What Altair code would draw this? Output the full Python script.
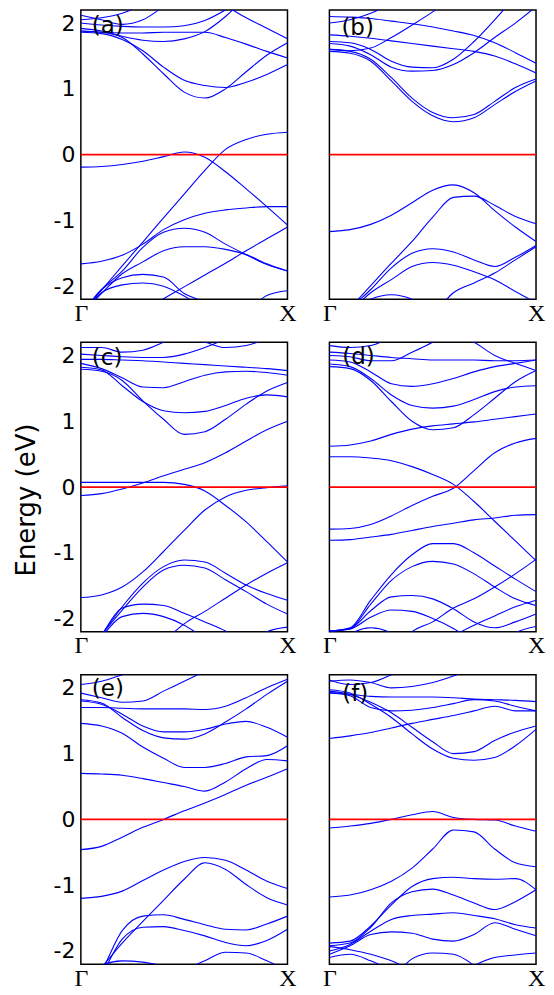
import altair as alt
import pandas as pd

# k-path sample positions (Γ = 0, X = 1)
K = [0.0, 0.1, 0.2, 0.3, 0.4, 0.5, 0.6, 0.7, 0.8, 0.9, 1.0]

# ---------------- panel (a) ----------------
A_BANDS = {
    "b1": [-0.19, -0.18, -0.15, -0.10, -0.03, 0.04, -0.04, -0.26, -0.52, -0.79, -1.07],
    "b2": [-2.42, -2.06, -1.69, -1.33, -0.96, -0.60, -0.24, 0.08, 0.23, 0.31, 0.34],
    "b3": [-1.66, -1.62, -1.53, -1.36, -1.14, -0.99, -0.89, -0.84, -0.81, -0.79, -0.79],
    "b4": [-2.45, -2.05, -1.77, -1.41, -1.18, -1.12, -1.18, -1.36, -1.52, -1.67, -1.77],
    "b5": [-2.45, -2.11, -1.81, -1.63, -1.46, -1.40, -1.40, -1.44, -1.52, -1.66, -1.77],
    "b6": [-2.92, -2.74, -2.55, -2.37, -2.19, -2.01, -1.83, -1.65, -1.46, -1.28, -1.10],
    "b7": [-2.45, -2.05, -1.87, -1.82, -1.86, -2.11, -2.25, -2.5, -2.7, -2.9, -3.1],
    "b8": [-2.45, -2.10, -1.98, -1.95, -2.00, -2.15, -2.35, -2.55, -2.75, -2.95, -3.1],
    "b9": [-3.5, -3.4, -3.3, -3.2, -3.1, -3.0, -2.85, -2.6, -2.4, -2.14, -2.07],
    "u1": [1.88, 1.86, 1.78, 1.53, 1.23, 0.95, 0.86, 1.00, 1.26, 1.51, 1.70],
    "u2": [1.86, 1.84, 1.75, 1.58, 1.33, 1.13, 1.05, 1.02, 1.10, 1.22, 1.37],
    "u3": [1.92, 1.88, 1.80, 1.74, 1.72, 1.76, 1.87, 2.10, 2.40, 2.70, 3.00],
    "u4": [3.0, 2.9, 2.8, 2.7, 2.6, 2.5, 2.4, 2.26, 2.08, 1.92, 1.76],
    "u5": [1.88, 1.86, 1.85, 1.85, 1.86, 1.86, 1.86, 1.78, 1.68, 1.57, 1.47],
    "u6": [2.05, 2.08, 2.15, 2.28, 2.45, 2.6, 2.8, 3.0, 3.2, 3.4, 3.6],
    "u7": [2.12, 2.05, 1.98, 2.05, 2.25, 2.45, 2.65, 2.85, 3.0, 3.2, 3.4],
    "u8": [2.00, 1.97, 1.95, 1.94, 1.94, 1.96, 2.04, 2.20, 2.40, 2.60, 2.80],
}

# ---------------- panel (b) ----------------
B_BANDS = {
    "v1": [-1.17, -1.14, -1.06, -0.92, -0.73, -0.54, -0.46, -0.58, -0.85, -1.10, -1.32],
    "v2": [-2.66, -2.33, -1.99, -1.65, -1.32, -0.95, -0.65, -0.63, -0.77, -0.94, -1.05],
    "v3": [-2.75, -2.35, -2.05, -1.72, -1.50, -1.43, -1.48, -1.60, -1.70, -1.56, -1.38],
    "v4": [-2.80, -2.40, -2.10, -1.90, -1.70, -1.64, -1.68, -1.78, -1.90, -2.08, -2.25],
    "v5": [-4.0, -3.7, -3.4, -3.1, -2.8, -2.45, -2.10, -1.95, -1.80, -1.60, -1.40],
    "v6": [-2.7, -2.45, -2.20, -2.13, -2.20, -2.4, -2.6, -2.8, -3.0, -3.2, -3.4],
    "u1": [2.10, 2.09, 2.07, 2.03, 1.99, 1.94, 1.88, 1.81, 1.70, 1.55, 1.39],
    "u2": [1.82, 1.80, 1.77, 1.73, 1.69, 1.65, 1.61, 1.57, 1.50, 1.38, 1.24],
    "u3": [1.69, 1.65, 1.52, 1.33, 1.27, 1.28, 1.37, 1.55, 1.78, 2.00, 2.25],
    "u4": [1.72, 1.70, 1.60, 1.42, 1.33, 1.32, 1.45, 1.72, 2.05, 2.40, 2.70],
    "u5": [2.00, 2.05, 2.15, 2.30, 2.50, 2.70, 2.90, 3.10, 3.30, 3.50, 3.70],
    "u6": [1.60, 1.58, 1.62, 1.78, 1.97, 2.17, 2.40, 2.60, 2.80, 3.00, 3.20],
    "d1": [1.57, 1.54, 1.42, 1.12, 0.81, 0.59, 0.50, 0.56, 0.76, 0.96, 1.12],
    "d2": [1.60, 1.57, 1.45, 1.17, 0.86, 0.64, 0.56, 0.61, 0.81, 1.02, 1.15],
}

# ---------------- panel (c) ----------------
C_BANDS = {
    "c1": [-0.13, -0.10, -0.03, 0.06, 0.17, 0.27, 0.37, 0.52, 0.70, 0.87, 1.00],
    "c2": [0.07, 0.07, 0.07, 0.07, 0.07, 0.04, -0.06, -0.28, -0.53, -0.83, -1.14],
    "c3": [-1.68, -1.64, -1.52, -1.29, -0.98, -0.66, -0.35, -0.15, -0.05, -0.01, 0.02],
    "c4": [-2.70, -2.25, -1.82, -1.46, -1.21, -1.11, -1.14, -1.31, -1.49, -1.62, -1.72],
    "c5": [-2.70, -2.25, -1.87, -1.52, -1.26, -1.19, -1.23, -1.41, -1.59, -1.78, -1.93],
    "c6": [-3.50, -3.20, -2.95, -2.65, -2.35, -2.08, -1.89, -1.69, -1.49, -1.31, -1.15],
    "c7": [-2.70, -2.25, -1.84, -1.78, -1.80, -1.92, -2.05, -2.19, -2.4, -2.6, -2.8],
    "c8": [-2.70, -2.28, -1.97, -1.92, -1.97, -2.10, -2.3, -2.5, -2.7, -2.9, -3.1],
    "c9": [-3.5, -3.4, -3.3, -3.2, -3.1, -3.0, -2.9, -2.7, -2.4, -2.2, -2.13],
    "u1": [1.79, 1.76, 1.62, 1.31, 1.03, 0.80, 0.84, 1.03, 1.26, 1.46, 1.59],
    "u2": [1.82, 1.78, 1.54, 1.30, 1.16, 1.13, 1.15, 1.24, 1.35, 1.40, 1.37],
    "u3": [1.88, 1.80, 1.66, 1.52, 1.51, 1.60, 1.70, 1.75, 1.76, 1.74, 1.70],
    "u4": [1.94, 1.94, 1.93, 1.92, 1.90, 1.88, 1.86, 1.84, 1.82, 1.80, 1.77],
    "u5": [2.02, 2.00, 1.98, 1.97, 1.97, 2.02, 2.12, 2.25, 2.40, 2.55, 2.70],
    "u6": [2.12, 2.12, 2.05, 2.08, 2.20, 2.35, 2.50, 2.65, 2.80, 2.95, 3.10],
    "u7": [2.60, 2.50, 2.40, 2.35, 2.30, 2.25, 2.20, 2.12, 2.15, 2.25, 2.35],
}

# ---------------- panel (d) ----------------
D_BANDS = {
    "d1": [0.46, 0.46, 0.44, 0.40, 0.31, 0.19, 0.04, -0.22, -0.52, -0.82, -1.12],
    "d2": [-0.64, -0.63, -0.57, -0.44, -0.28, -0.14, -0.02, 0.25, 0.52, 0.67, 0.74],
    "d3": [-0.81, -0.80, -0.76, -0.72, -0.66, -0.60, -0.55, -0.50, -0.47, -0.43, -0.42],
    "d4": [0.62, 0.64, 0.70, 0.80, 0.88, 0.93, 0.96, 0.99, 1.03, 1.07, 1.11],
    "l1": [-2.19, -2.14, -1.72, -1.33, -1.03, -0.86, -0.86, -1.00, -1.20, -1.40, -1.59],
    "l2": [-2.19, -2.15, -1.78, -1.42, -1.21, -1.13, -1.17, -1.32, -1.52, -1.70, -1.80],
    "l3": [-2.19, -2.15, -1.88, -1.67, -1.65, -1.70, -1.85, -2.05, -2.14, -2.05, -1.93],
    "l4": [-2.19, -2.16, -1.98, -1.87, -1.89, -2.00, -2.15, -2.35, -2.55, -2.75, -2.95],
    "l5": [-3.5, -3.2, -2.9, -2.55, -2.20, -2.05, -1.84, -1.70, -1.52, -1.32, -1.10],
    "l6": [-4.0, -3.8, -3.6, -3.4, -3.1, -2.8, -2.30, -2.10, -1.96, -1.82, -1.72],
    "l7": [-2.6, -2.24, -2.14, -2.22, -2.5, -2.8, -3.0, -3.2, -3.4, -3.6, -3.8],
    "l8": [-3.6, -3.5, -3.4, -3.3, -3.2, -3.1, -3.0, -2.8, -2.5, -2.22, -2.12],
    "ua": [1.83, 1.80, 1.62, 1.30, 1.00, 0.87, 0.90, 1.10, 1.35, 1.60, 1.77],
    "ub": [1.87, 1.83, 1.65, 1.40, 1.24, 1.20, 1.23, 1.33, 1.45, 1.52, 1.54],
    "uc": [1.93, 1.90, 1.75, 1.57, 1.53, 1.57, 1.65, 1.75, 1.83, 1.88, 1.93],
    "ud": [2.05, 2.03, 2.00, 1.97, 1.95, 1.93, 1.93, 1.93, 1.92, 1.92, 1.93],
    "ue": [3.0, 2.9, 2.8, 2.7, 2.6, 2.45, 2.32, 2.20, 2.00, 1.88, 1.77],
    "uf": [2.00, 1.98, 1.92, 1.92, 2.05, 2.20, 2.35, 2.50, 2.65, 2.80, 2.95],
    "ug": [2.15, 2.12, 2.15, 2.28, 2.45, 2.60, 2.75, 2.90, 3.05, 3.20, 3.35],
}

# ---------------- panel (e) ----------------
E_BANDS = {
    "e1": [-0.46, -0.41, -0.27, -0.12, 0.00, 0.13, 0.25, 0.38, 0.52, 0.64, 0.77],
    "e2": [0.70, 0.69, 0.67, 0.62, 0.56, 0.50, 0.43, 0.57, 0.77, 0.91, 0.89],
    "e3": [-1.20, -1.17, -1.09, -0.93, -0.77, -0.64, -0.58, -0.62, -0.77, -0.94, -1.05],
    "e4": [-2.60, -2.25, -1.88, -1.55, -1.23, -0.91, -0.66, -0.76, -0.99, -1.19, -1.30],
    "e5": [-2.70, -2.30, -1.69, -1.47, -1.45, -1.52, -1.60, -1.67, -1.68, -1.59, -1.47],
    "e6": [-2.70, -2.35, -1.82, -1.64, -1.63, -1.69, -1.77, -1.87, -1.92, -1.84, -1.67],
    "e7": [-2.50, -2.22, -2.15, -2.17, -2.25, -2.5, -2.7, -2.9, -3.1, -3.3, -3.5],
    "e8": [-3.5, -3.3, -3.1, -2.9, -2.6, -2.30, -2.15, -2.02, -2.03, -2.15, -2.30],
    "u1": [1.46, 1.42, 1.31, 1.10, 0.93, 0.79, 0.79, 0.85, 0.95, 0.97, 1.12],
    "u2": [1.80, 1.75, 1.60, 1.42, 1.33, 1.33, 1.37, 1.45, 1.49, 1.40, 1.25],
    "u3": [1.82, 1.77, 1.55, 1.35, 1.24, 1.22, 1.30, 1.48, 1.68, 1.90, 2.10],
    "u4": [1.70, 1.70, 1.69, 1.68, 1.68, 1.68, 1.67, 1.72, 1.85, 2.00, 2.13],
    "u5": [2.05, 2.10, 2.20, 2.30, 2.45, 2.60, 2.75, 2.90, 3.05, 3.20, 3.35],
    "u6": [1.92, 1.85, 1.78, 1.80, 1.95, 2.10, 2.25, 2.40, 2.55, 2.70, 2.85],
}

# ---------------- panel (f) ----------------
F_BANDS = {
    "f1": [-0.13, -0.10, -0.06, 0.00, 0.07, 0.12, 0.03, 0.00, -0.01, -0.10, -0.18],
    "f2": [-1.18, -1.15, -1.07, -0.94, -0.74, -0.45, -0.16, -0.19, -0.45, -0.66, -0.72],
    "l1": [-1.88, -1.85, -1.62, -1.30, -1.02, -0.90, -0.88, -0.90, -0.91, -0.90, -1.07],
    "l2": [-1.92, -1.88, -1.64, -1.27, -1.10, -1.06, -1.15, -1.27, -1.37, -1.25, -1.07],
    "l3": [-2.00, -1.90, -1.70, -1.52, -1.46, -1.44, -1.42, -1.46, -1.51, -1.60, -1.65],
    "l4": [-2.05, -1.92, -1.75, -1.71, -1.73, -1.82, -1.85, -1.75, -1.57, -1.67, -1.77],
    "l5": [-1.93, -1.98, -2.05, -2.15, -2.30, -2.5, -2.7, -2.9, -3.1, -3.3, -3.5],
    "l6": [-3.4, -3.1, -2.8, -2.45, -2.12, -2.03, -2.05, -2.22, -2.5, -2.8, -3.0],
    "l7": [-3.6, -3.4, -3.2, -3.0, -2.8, -2.6, -2.4, -2.22, -2.10, -2.06, -2.03],
    "l8": [-2.10, -2.05, -2.15, -2.30, -2.5, -2.7, -2.9, -3.1, -3.3, -3.5, -3.7],
    "u1": [1.23, 1.27, 1.32, 1.39, 1.46, 1.52, 1.58, 1.65, 1.72, 1.65, 1.65],
    "d1": [1.95, 1.90, 1.78, 1.62, 1.40, 1.18, 1.00, 1.03, 1.20, 1.33, 1.42],
    "d2": [1.97, 1.92, 1.75, 1.55, 1.30, 1.07, 0.93, 0.90, 0.94, 1.12, 1.37],
    "t1": [1.92, 1.90, 1.87, 1.86, 1.86, 1.86, 1.85, 1.83, 1.82, 1.81, 1.79],
    "t2": [1.93, 1.88, 1.70, 1.65, 1.66, 1.70, 1.76, 1.82, 1.80, 1.72, 1.65],
    "t3": [2.10, 2.12, 2.08, 2.00, 2.02, 2.08, 2.18, 2.30, 2.45, 2.60, 2.75],
    "t4": [2.12, 2.05, 2.08, 2.20, 2.35, 2.50, 2.65, 2.80, 2.95, 3.10, 3.25],
}

PANEL_LABELS = ["(a)", "(b)", "(c)", "(d)", "(e)", "(f)"]
PANEL_DATA = [A_BANDS, B_BANDS, C_BANDS, D_BANDS, E_BANDS, F_BANDS]
LABEL_POS = [(0.053, 1.96), (0.058, 1.92), (0.053, 1.96), (0.062, 1.97), (0.053, 1.98), (0.062, 1.90)]
Y_TICKS = [-2, -1, 0, 1, 2]
Y_DOMAIN = [-2.2, 2.2]

W, H = 207, 290


def make_panel(idx):
    bands = PANEL_DATA[idx]
    left = idx % 2 == 0
    rows = []
    for name, vals in bands.items():
        for k, e in zip(K, vals):
            rows.append({"k": k, "E": e, "band": name})
    df = pd.DataFrame(rows)

    xs = alt.Scale(domain=[0, 1], nice=False, zero=False)
    ys = alt.Scale(domain=Y_DOMAIN, nice=False, zero=False)

    xaxis = alt.Axis(values=[0, 1], labelExpr="datum.value < 0.5 ? 'Γ' : 'X'",
                     domain=False, ticks=False, grid=False, labelFlush=False,
                     labelOverlap=False, labelFont="Liberation Serif", labelFontSize=24,
                     labelColor="black", labelPadding=2, title=None)
    yaxis = alt.Axis(values=Y_TICKS, labelExpr="'' + datum.value", domain=False,
                     ticks=False, grid=False, labelFont="DejaVu Sans", labelFontSize=22,
                     labelColor="black", labelPadding=6, title=None, labels=left)

    X = alt.X("k:Q", scale=xs, axis=xaxis, title=None)
    Y = alt.Y("E:Q", scale=ys, axis=yaxis, title=None)

    lines = alt.Chart(df).mark_line(color="#0000ff", strokeWidth=1.1,
                                    interpolate="monotone", clip=True).encode(
        x=X, y=Y, detail="band:N",
    )
    zero = alt.Chart(pd.DataFrame({"E": [0.0]})).mark_rule(color="#ff0000", strokeWidth=1.8).encode(
        y=Y
    )
    lx, ly = LABEL_POS[idx]
    lab = alt.Chart(pd.DataFrame({"k": [lx], "E": [ly], "t": [PANEL_LABELS[idx]]})).mark_text(
        align="left", baseline="middle", font="DejaVu Sans", fontSize=23, color="black"
    ).encode(x=X, y=Y, text="t:N")
    return alt.layer(lines, zero, lab).properties(width=W, height=H)


chart = alt.concat(*[make_panel(i) for i in range(6)], columns=2,
                   spacing={"row": 43, "column": 42}, bounds="flush").properties(
    title=alt.TitleParams("Energy (eV)", orient="left", anchor="middle", font="DejaVu Sans",
                          fontSize=26, fontWeight="normal", color="black", offset=12),
    padding={"left": 6, "top": 0, "right": 0, "bottom": 0},
    background="white",
).configure_view(stroke="black", strokeWidth=1.5)

chart.save("out.html", embed_options={"renderer": "svg", "actions": False})
